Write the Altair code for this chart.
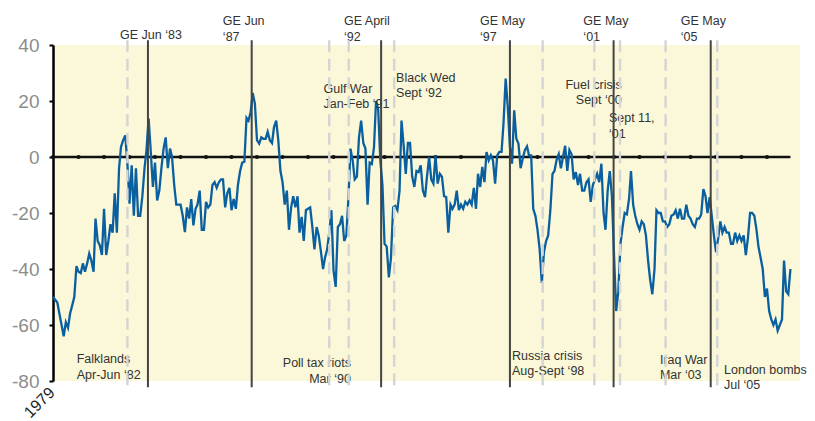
import altair as alt
import pandas as pd

FONT = "Liberation Sans"
START = "1979-07-01"

# Monthly net balance (Jul 1979 onwards)
values = [
    -50, -51, -52, -56, -60, -64, -59, -61, -56, -53, -50, -39,
    -41, -41.5, -38, -41, -38, -34.5, -37, -41, -22, -30, -31.5, -35,
    -18.5, -35, -30, -24, -27, -13, -27, -4, 3.6, 6, 7.7, -2.4,
    -16.7, -3, -21, -4, -21, -21, -14, -4, 2.4, 13.7, 2, -10.7,
    -2, -15.5, -12, -4, 3, 7, -4, 3, 0, -10, -17, -17,
    -17, -21, -26.8, -18, -22, -15, -24.4, -18.5, -17, -12, -26, -26,
    -16, -18, -17, -10, -9, -11, -9, -8, -8, -18, -13, -11,
    -19, -15, -18.5, -10, -5, -2, -1.7, 14, 13, 16, 22.9, 19,
    6, 4.8, 7, 6.5, 6.5, 9, 6, 5, 10.7, 13, 6, -5,
    -9, -17, -12, -26, -18, -14, -18, -14, -27, -21.4, -30, -19,
    -18.5, -18, -25, -33, -25, -28, -33.6, -40, -36, -33, -27, -19,
    -40.5, -46.4, -25, -24, -21, -30, -28, -14, 3, -1.2, -8, -7,
    7, 13, 5, 3, -17, -2, -2.5, 3.5, 20, 17, -1, -10,
    -31, -32, -43, -36, -18, -17.5, -19, -12, 13, 4, -6, 5,
    5, -7, -10.7, -5, -5.4, -3, -12, -14.3, -7, 0, -8, -9.5,
    0.5, -9.5, -6, -7, -14, -14.3, -27, -17, -18.5, -17, -12, -19,
    -17, -18.5, -16, -17, -15.5, -17, -11, -18.5, -6, -10.7, -3.5, -9,
    1.8, -1.2, 0.6, -1.2, -9.5, 0.6, 1.8, 1.8, 12, 28, 18, 3.6,
    -2.4, 16.7, 6.5, 4.8, -4, -0.6, 2.4, 3.8, 0.6, 0.6, -18.5, -21,
    -26, -33, -45, -34, -30, -28, -19, -6, -5, -1, 1, -4,
    0, 4, -5, 2.5, 1, -8, -5.4, -10, -6, -12, -12, -9,
    -8, -16, -10, -8, -6, -9, -2.4, -20, -26, -12, -5, -14,
    -35, -55, -48, -31, -25, -20, -20.5, -15, -5, -17, -21, -24,
    -26, -23, -24, -28, -37, -44, -49, -40, -19, -20, -20, -23,
    -23, -25, -24, -21, -20.5, -19, -22, -18.5, -22, -22, -17, -21,
    -22, -24, -25, -22, -22, -20.5, -11.5, -14, -20, -14.3, -21, -28,
    -34, -29, -23, -27, -25, -27, -27, -31, -31, -27, -30, -28,
    -30, -28, -35, -29, -20, -20, -21, -26, -32, -36, -40, -50,
    -47, -55, -58, -60, -58, -62, -60, -58, -37, -48, -49, -40,
]
dates = pd.date_range(START, periods=len(values), freq="MS").strftime("%Y-%m-%d").tolist()

# General elections (solid lines) and events (dashed lines), as placed on the chart
election_dates = ["1983-03-22", "1987-04-16", "1992-05-13", "1997-06-01", "2001-06-25", "2005-04-16"]
event_dates = ["1982-06-01", "1990-05-01", "1991-02-04", "1992-11-16", "1998-09-13",
               "2000-09-22", "2001-09-25", "2003-07-10", "2005-07-19"]

label_texts = [
    "GE Jun \u201883", "GE Jun\n  \u201887", "GE April\n \u201892", "GE May\n \u201897",
    "GE May\n \u201801", "GE May\n \u201805",
    "Falklands\nApr-Jun \u201882", "Poll tax riots\nMar \u201890", "Gulf War\nJan-Feb \u201891",
    "Black Wed\nSept \u201892", "Russia crisis\nAug-Sept \u201898", "Fuel crisis\nSept \u201800",
    "Sept 11,\n \u201801", "Iraq War\nMar \u201803", "London bombs\n Jul \u201805",
]
label_dates = [
    "1983-05-04", "1986-02-27", "1990-11-28", "1996-03-28", "2000-04-18", "2004-02-12",
    "1980-06-05", "1991-03-07", "1990-02-07", "1992-12-13", "1997-07-01", "2001-10-19",
    "2001-04-19", "2003-04-19", "2005-10-25",
]
label_values = [42.3, 47.0, 47.0, 47.0, 47.0, 47.0,
                -73.6, -75.0, 22.9, 26.8, -72.4, 24.4, 12.5, -73.8, -77.4]
label_aligns = ["center", "left", "left", "left", "left", "left",
                "left", "right", "left", "left", "left", "right", "left", "left", "left"]

y_ticks = [-80, -60, -40, -20, 0, 20, 40]
RULE_TOP = 41.7
RULE_BOTTOM = -82.2

xs = alt.Scale(domain=[alt.DateTime(year=1979, month=7, date=1, utc=True),
                       alt.DateTime(year=2008, month=10, date=16, utc=True)])
ys = alt.Scale(domain=[-80, 40], nice=False, zero=False)

x_axis = alt.Axis(values=[alt.DateTime(year=1979, month=7, date=1, utc=True)], format="%Y",
                  labelAngle=315, labelAlign="right", labelBaseline="top", labelFlush=False,
                  labelFont=FONT, labelFontSize=16, labelColor="#222222", labelPadding=3,
                  labelOffset=-7, domain=False, ticks=False, grid=False, title=None,
                  labelOverlap=False)
y_axis = alt.Axis(values=y_ticks, labelExpr="'' + datum.value",
                  labelFont=FONT, labelFontSize=19, labelColor="#8c8c8c",
                  labelPadding=10, domainColor="#000000", domainWidth=2.5, tickColor="#000000",
                  tickWidth=2, tickSize=4, grid=False, title=None)


def X(field):
    return alt.X(field, scale=xs, axis=x_axis)


def Y(field):
    return alt.Y(field, scale=ys, axis=y_axis)


line_df = pd.DataFrame({"d": dates, "v": values})
zero_df = pd.DataFrame({"d": [dates[0]], "d2": [dates[-1]], "v": [0]})
dots_df = pd.DataFrame({"d": dates[::12], "v": 0})
elect_df = pd.DataFrame({"d": election_dates, "v": RULE_TOP, "bot": RULE_BOTTOM})
event_df = pd.DataFrame({"d": event_dates, "v": RULE_TOP, "bot": RULE_BOTTOM})
lab_df = pd.DataFrame({"t": label_texts, "d": label_dates, "v": label_values, "a": label_aligns})

zero = alt.Chart(zero_df).mark_rule(color="#111111", strokeWidth=2.6).encode(
    x=X("d:T"), x2="d2:T", y=Y("v:Q"))
dots = alt.Chart(dots_df).mark_circle(size=18, color="#111111", opacity=1).encode(
    x=X("d:T"), y=Y("v:Q"))
line = alt.Chart(line_df).mark_line(color="#0A5FA0", strokeWidth=2.3).encode(
    x=X("d:T"), y=Y("v:Q"))

texts = []
for a in ["left", "center", "right"]:
    texts.append(
        alt.Chart(lab_df[lab_df["a"] == a]).mark_text(
            align=a, baseline="alphabetic", lineBreak="\n", lineHeight=15.5,
            font=FONT, fontSize=12.5, color="#333333").encode(
            x=X("d:T"), y=Y("v:Q"), text="t:N"))

events = alt.Chart(event_df).mark_rule(color="#D4D4D4", strokeWidth=2.4, strokeDash=[12, 6.5]).encode(
    x=X("d:T"), y=Y("v:Q"), y2="bot:Q")
elections = alt.Chart(elect_df).mark_rule(color="#444444", strokeWidth=2).encode(
    x=X("d:T"), y=Y("v:Q"), y2="bot:Q")

chart = alt.layer(zero, dots, line, *texts, events, elections).properties(
    width=747, height=336,
    padding={"left": 45, "top": 37, "right": 7, "bottom": 40},
    autosize="none",
).configure_view(fill="#FAF8D8", strokeWidth=0)

chart.save("out.html", embed_options={"renderer": "svg", "actions": False})
